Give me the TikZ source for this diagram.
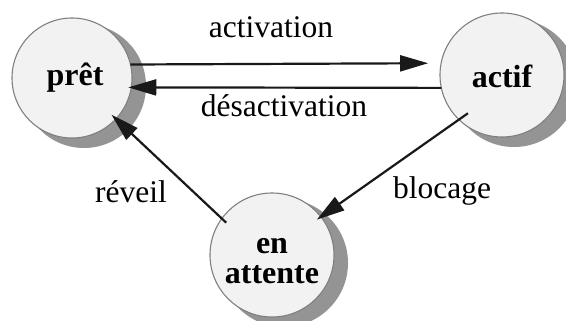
\documentclass[tikz,border=0pt]{standalone}
\usepackage{fontspec}
\setmainfont{Liberation Serif}
\usetikzlibrary{arrows.meta}

\begin{document}
\begin{tikzpicture}[x=1pt, y=-1pt,
  state/.style={circle, draw=black!50, line width=1.1pt, fill=black!5,
    inner sep=0pt, outer sep=0pt, minimum size=#1},
  statetext/.style={font=\fontsize{32}{30}\selectfont\bfseries,
    align=center, inner sep=0pt},
  shade/.style={fill=black!42, draw=none},
  trans/.style={draw=black!90, line width=2.2pt,
    -{Triangle[length=28pt, width=16pt]}},
  lbl/.style={font=\fontsize{31.5}{30}\selectfont, anchor=base, inner sep=0pt}]

  \useasboundingbox (0,0) rectangle (566,321);
  \fill[white] (0,0) rectangle (566,321);

  % drop shadows behind the three states
  \fill[shade] (84,86) circle[radius=62];
  \fill[shade] (514,83) circle[radius=64];
  \fill[shade] (284,263) circle[radius=64];

  % states
  \node[state=120pt] (pret) at (72,78) {};
  \node[state=124pt] (actif) at (502,75) {};
  \node[state=124pt] (att) at (272,255) {};

  % state names
  \node[statetext, anchor=base] (tpret) at (75,86) {prêt};
  \node[statetext, anchor=base] (tactif) at (502,88) {actif};
  \node[statetext] (tatt) at (272,261) {en\\attente};

  % transitions
  \draw[trans, shorten >=13pt] (pret.13.5) -- (actif.169.8);
  \draw[trans, shorten >=-3pt] (actif.192.1) -- (pret.-9.6);
  \draw[trans, shorten <=-6pt, shorten >=-6pt] (att.144) -- (pret.-43);
  \draw[trans, shorten <=-11pt, shorten >=-5pt] (actif.226.7) -- (att.38.4);

  % transition labels
  \node[lbl] (lact) at (271,38) {activation};
  \node[lbl] (ldes) at (284,117) {désactivation};
  \node[lbl] (lrev) at (131,202) {réveil};
  \node[lbl] (lblo) at (442,198) {blocage};
\end{tikzpicture}
\end{document}
